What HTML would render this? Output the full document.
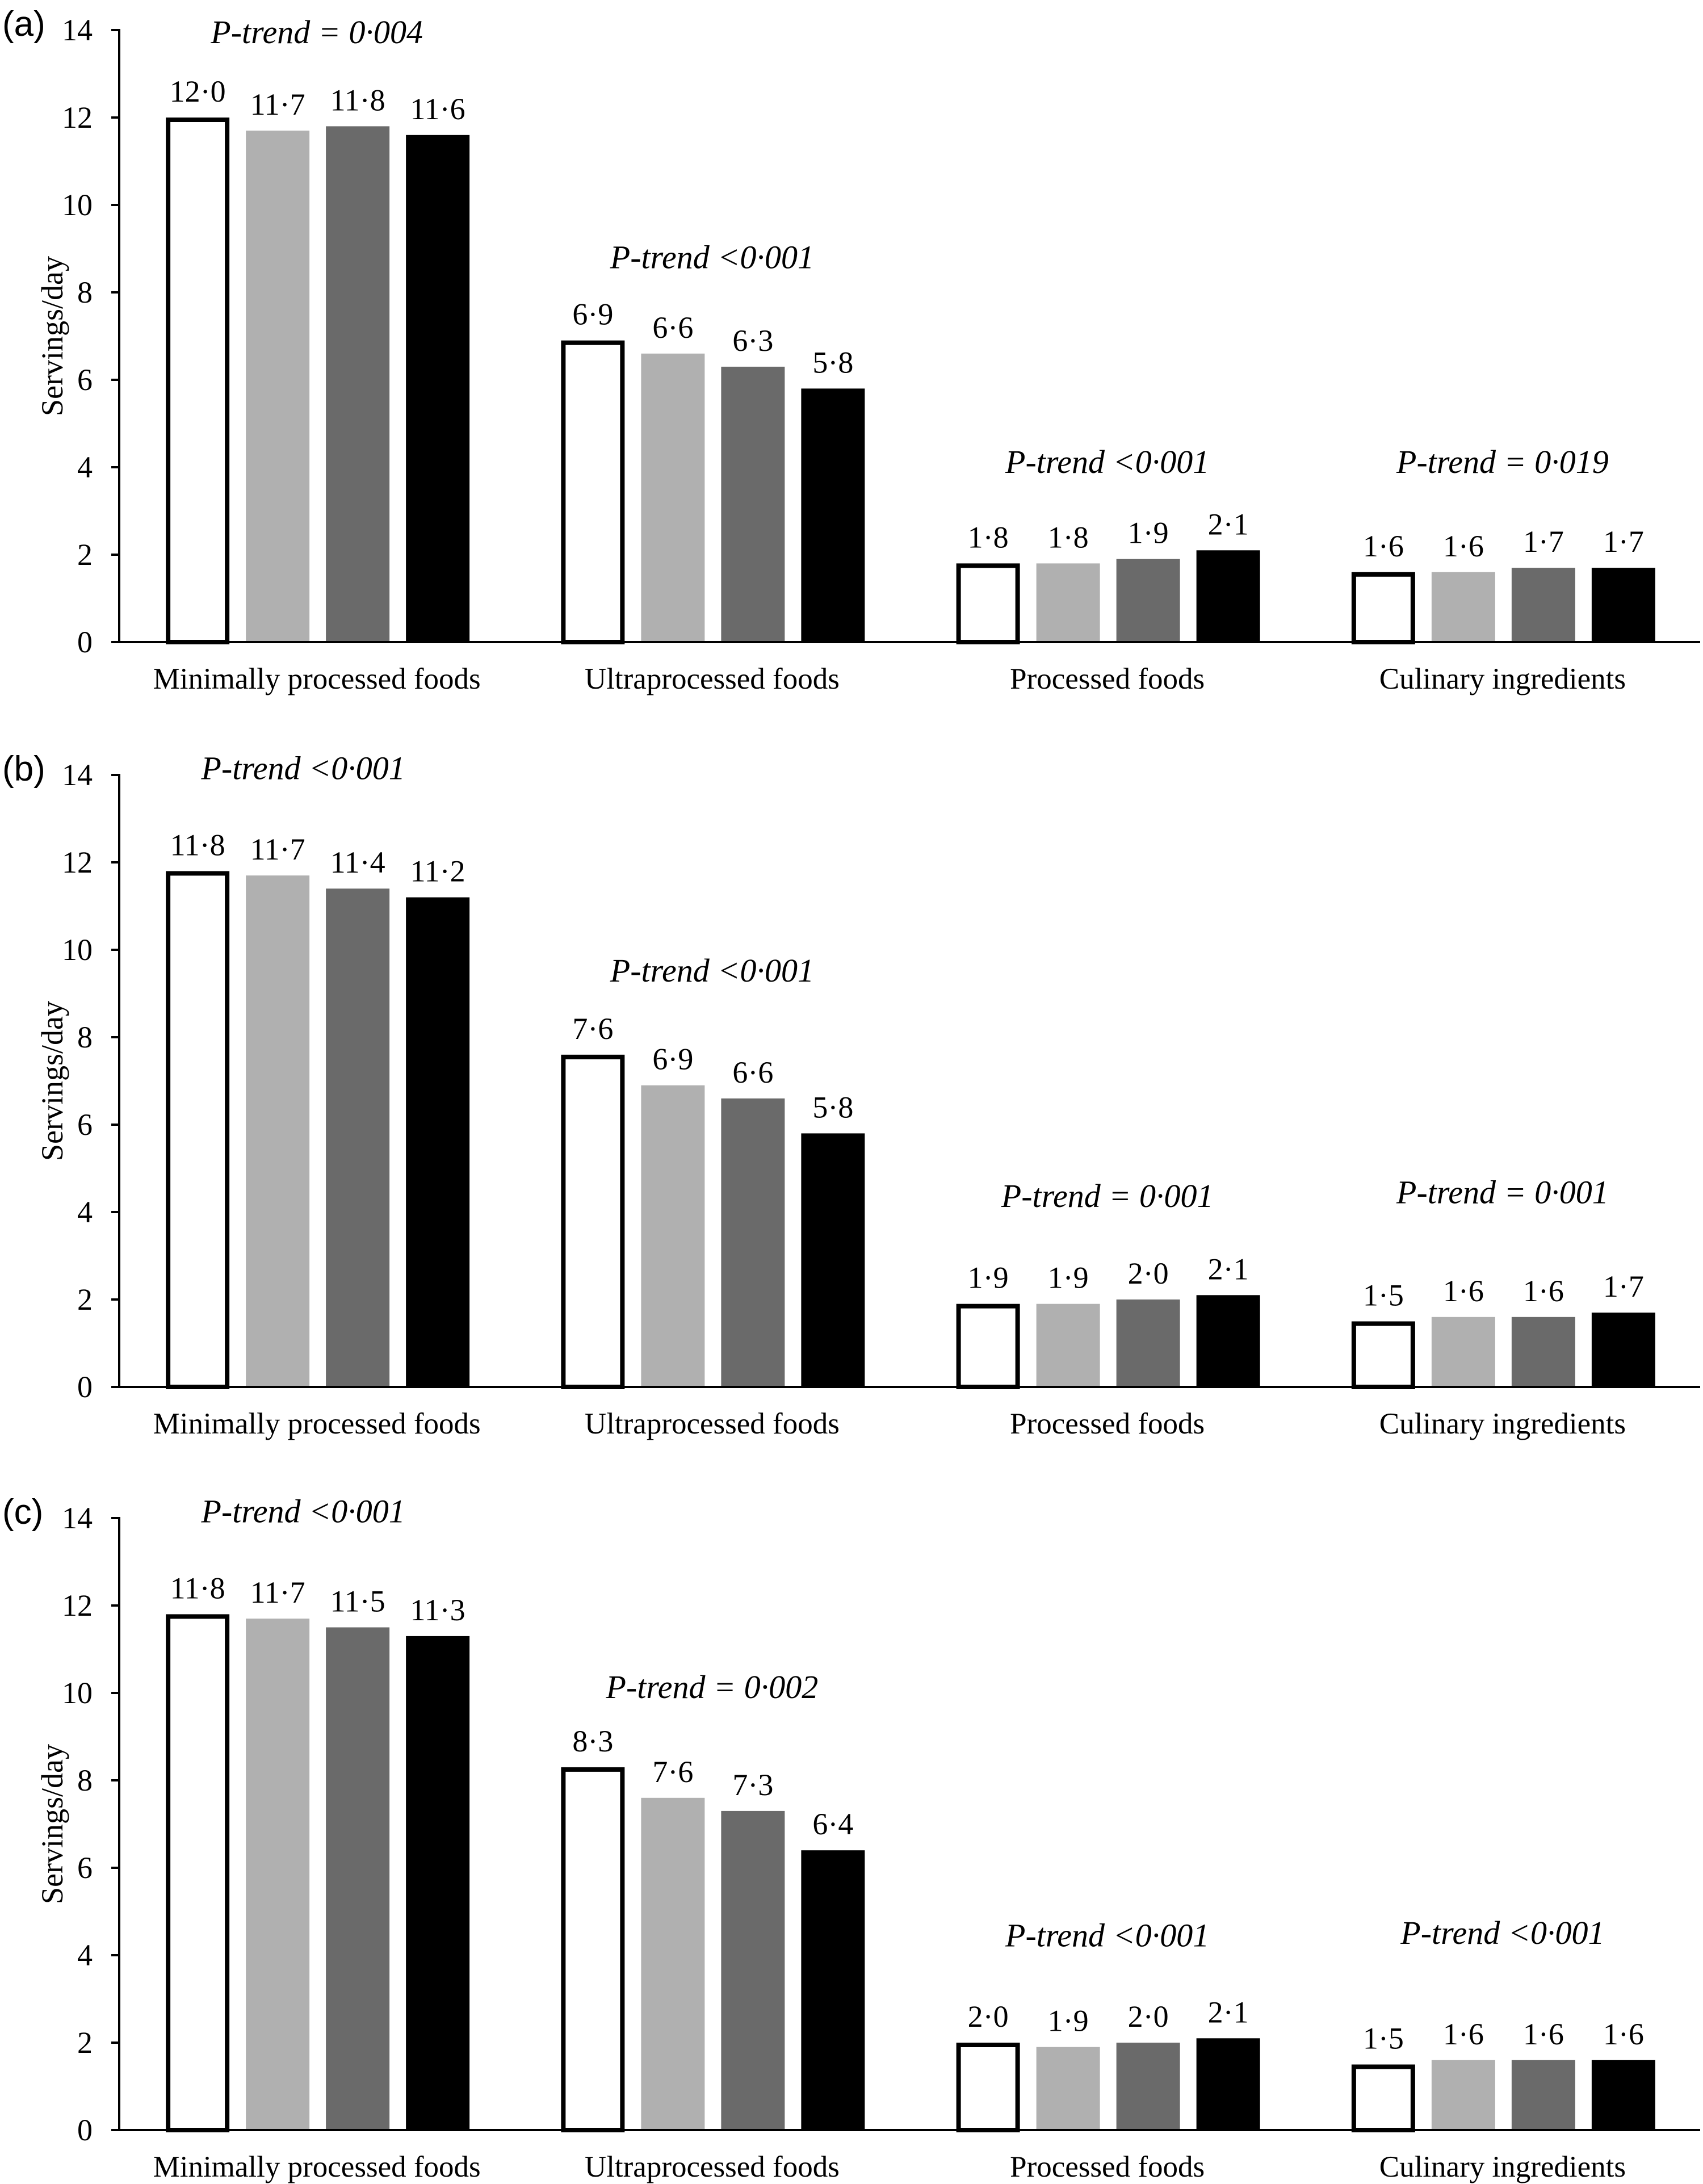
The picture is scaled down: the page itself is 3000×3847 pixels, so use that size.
<!DOCTYPE html>
<html><head><meta charset="utf-8">
<style>
html,body{margin:0;padding:0;background:#fff;}
svg{display:block;}
text{font-family:"Liberation Serif",serif;fill:#000;}
</style></head>
<body>
<svg id="chart" width="3000" height="3847" viewBox="0 0 3000 3847" xmlns="http://www.w3.org/2000/svg"></svg>
<script>
const categories = ["Minimally processed foods","Ultraprocessed foods","Processed foods","Culinary ingredients"];
const panelLabels = ["(a)","(b)","(c)"];
const yTicks = [0,2,4,6,8,10,12,14];
const valuesA = [[12.0,11.7,11.8,11.6],[6.9,6.6,6.3,5.8],[1.8,1.8,1.9,2.1],[1.6,1.6,1.7,1.7]];
const valuesB = [[11.8,11.7,11.4,11.2],[7.6,6.9,6.6,5.8],[1.9,1.9,2.0,2.1],[1.5,1.6,1.6,1.7]];
const valuesC = [[11.8,11.7,11.5,11.3],[8.3,7.6,7.3,6.4],[2.0,1.9,2.0,2.1],[1.5,1.6,1.6,1.6]];
const pTextA = ["P-trend = 0·004","P-trend <0·001","P-trend <0·001","P-trend = 0·019"];
const pTextB = ["P-trend <0·001","P-trend <0·001","P-trend = 0·001","P-trend = 0·001"];
const pTextC = ["P-trend <0·001","P-trend = 0·002","P-trend <0·001","P-trend <0·001"];
const pLevelA = [13.7,8.55,3.87,3.87];
const pLevelB = [13.9,9.27,4.12,4.2];
const pLevelC = [13.9,9.88,4.2,4.26];

const svg = document.getElementById('chart');
const NS = "http://www.w3.org/2000/svg";
function mk(tag, attrs){const e=document.createElementNS(NS,tag);for(const k in attrs)e.setAttribute(k,attrs[k]);svg.appendChild(e);return e;}
const fills = ["#ffffff","#b0b0b0","#6a6a6a","#000000"];
const axisX = 210, axisRight = 2995;
const catW = (axisRight-axisX)/categories.length;
const zeros = [1131,2443,3752];
const unit = 77;
const panels = [[valuesA,pTextA,pLevelA],[valuesB,pTextB,pLevelB],[valuesC,pTextC,pLevelC]];
function fmt(v){return v.toFixed(1).replace('.','·');}

panels.forEach((p,pi)=>{
  const [vals,pt,pl]=p;
  const y0=zeros[pi];
  const yS=v=>y0-v*unit;
  const xC=i=>axisX+catW*(i+0.5);
  const lab=mk('text',{x:4,y:yS(14)+10,'font-size':62,style:'font-family:"Liberation Sans",sans-serif'});
  lab.textContent=panelLabels[pi];
  
  
  const yt=mk('text',{x:0,y:0,'font-size':54,'text-anchor':'middle',transform:`translate(110,${yS(7)}) rotate(-90)`});
  yt.textContent="Servings/day";
  
  
  yTicks.forEach(t=>{
    const tl=mk('line',{x1:196,x2:axisX,y1:yS(t),y2:yS(t),stroke:'#000','stroke-width':4});
    
    
    const tx=mk('text',{x:163,y:yS(t)+18,'font-size':54,'text-anchor':'end'});
    tx.textContent=t;
    
    
  });
  vals.forEach((grp,ci)=>{
    grp.forEach((v,j)=>{
      const left=xC(ci)-266+141*j;
      let r;
      if(j===0){
        r=mk('rect',{x:left+4,y:yS(v)+4,width:104,height:v*unit-4,fill:'#fff',stroke:'#000','stroke-width':8});
      } else {
        r=mk('rect',{x:left,y:yS(v),width:112,height:v*unit,fill:fills[j]});
      }
      
      
      const vt=mk('text',{x:left+56,y:yS(v)-28,'font-size':54,'text-anchor':'middle'});
      vt.textContent=fmt(v);
      
      
    });
    const px = (pi>0 && ci===0) ? xC(ci)-24 : xC(ci);
    const pe=mk('text',{x:px,y:yS(pl[ci]),'font-size':58,'font-style':'italic','text-anchor':'middle'});
    pe.textContent=pt[ci];
    
    
    const cl=mk('text',{x:xC(ci),y:y0+82,'font-size':53,'text-anchor':'middle'});
    cl.textContent=categories[ci];
    
    
  });
  const ya=mk('line',{x1:axisX,x2:axisX,y1:yS(14)-2,y2:y0,stroke:'#000','stroke-width':4});
  
  
  const xa=mk('line',{x1:196,x2:axisRight,y1:y0,y2:y0,stroke:'#000','stroke-width':4});
  
  
});
</script>
</body></html>
